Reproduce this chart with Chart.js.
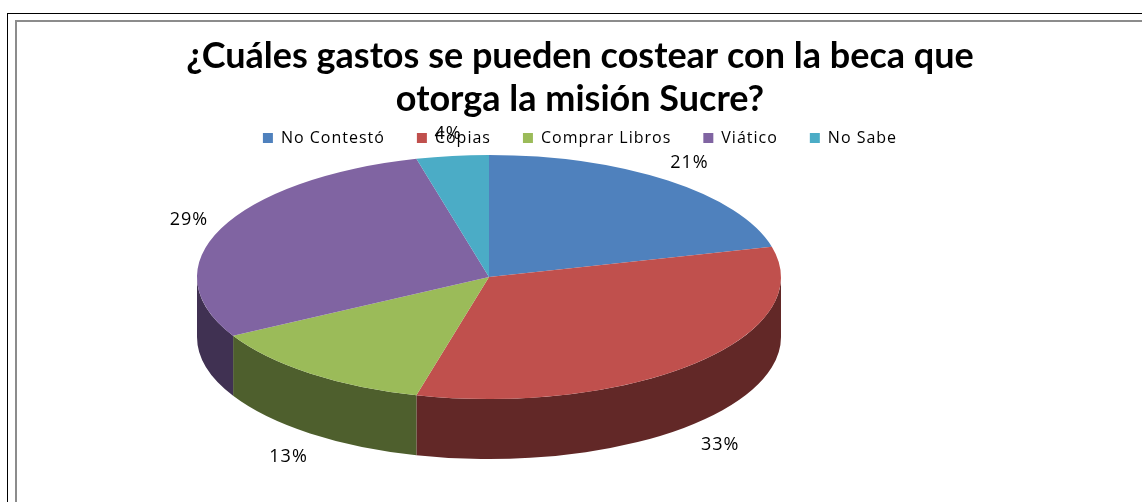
<!DOCTYPE html>
<html><head><meta charset="utf-8">
<script src="https://cdn.jsdelivr.net/npm/chart.js@4.4.1/dist/chart.umd.min.js"></script>
<style>
html,body{margin:0;padding:0;background:#fff;overflow:hidden;}
#wrap{position:relative;width:1142px;height:502px;overflow:hidden;}
canvas{position:absolute;left:0;top:0;}
.frame1{position:absolute;left:7px;top:13px;width:1300px;height:700px;border-left:1px solid #000;border-top:1px solid #000;pointer-events:none;}
.frame2{position:absolute;left:15px;top:20px;width:1300px;height:700px;border-left:2px solid #8c8c8c;border-top:2px solid #8c8c8c;pointer-events:none;}
</style></head>
<body><div id="wrap"><canvas id="c" width="1142" height="502"></canvas><div class="frame1"></div><div class="frame2"></div></div>
<script>
// ---- data ----
const categories = ['No Contestó', 'Copias', 'Comprar Libros', 'Viático', 'No Sabe'];
const percentages = [21, 33, 13, 29, 4];
const titleLines = ['¿Cuáles gastos se pueden costear con la beca que', 'otorga la misión Sucre?'];

// ---- styles ----
const sliceColors = ['#4F81BD', '#C0504D', '#9BBB59', '#8064A2', '#4BACC6'];
const sideColors  = ['#284060', '#622827', '#4E5F2D', '#403152', '#25566A'];
const PIE = { radius: 292, tilt: 0.418, depth: 60, shiftX: -91, shiftY: 0,
              labelFx: 1.12, labelFy: 1.18, labelDepth: 1.1 };
const LEGEND_SPACING = '1px';

function pieFrame(chart) {
  const arcs = chart.getDatasetMeta(0).data;
  const a = arcs[0];
  return { arcs, x: a.x, y: a.y, r: a.outerRadius, cx: a.x + PIE.shiftX, cy: a.y + PIE.shiftY };
}

const pie3d = {
  id: 'pie3d',
  afterInit(chart) {
    const lg = chart.legend;
    if (!lg) return;
    const origFit = lg.fit.bind(lg), origDraw = lg.draw.bind(lg);
    lg.fit = function () { const c = chart.ctx; c.save(); c.letterSpacing = LEGEND_SPACING; origFit(); c.restore(); };
    lg.draw = function () { const c = chart.ctx; c.save(); c.letterSpacing = LEGEND_SPACING; origDraw(); c.restore(); };
  },
  beforeDatasetsDraw(chart) {
    const ctx = chart.ctx, f = pieFrame(chart);
    ctx.save();
    ctx.translate(f.cx, f.cy);
    ctx.scale(1, PIE.tilt);
    ctx.translate(-f.x, -f.y);
    const d = PIE.depth / PIE.tilt;
    f.arcs.forEach((arc, i) => {
      const a1 = Math.max(arc.startAngle, 0), a2 = Math.min(arc.endAngle, Math.PI);
      if (a2 <= a1) return;
      ctx.beginPath();
      ctx.arc(f.x, f.y, f.r, a1, a2);
      ctx.arc(f.x, f.y + d, f.r, a2, a1, true);
      ctx.closePath();
      ctx.fillStyle = sideColors[i];
      ctx.fill();
    });
  },
  afterDatasetsDraw(chart) {
    const ctx = chart.ctx;
    ctx.restore();
    const f = pieFrame(chart);
    ctx.save();
    ctx.font = '18px "Open Sans"';
    ctx.letterSpacing = '1px';
    ctx.fillStyle = '#000';
    ctx.textAlign = 'center';
    ctx.textBaseline = 'middle';
    f.arcs.forEach((arc, i) => {
      const m = (arc.startAngle + arc.endAngle) / 2;
      const s = Math.sin(m), c = Math.cos(m);
      const x = f.cx + c * f.r * PIE.labelFx;
      const y = f.cy + s * f.r * PIE.tilt * PIE.labelFy + (s > 0 ? PIE.depth * PIE.labelDepth : 0);
      ctx.fillText(percentages[i] + '%', x, y);
    });
    ctx.restore();
  }
};

new Chart(document.getElementById('c'), {
  type: 'pie',
  data: {
    labels: categories,
    datasets: [{
      data: percentages,
      backgroundColor: sliceColors,
      borderWidth: 0,
      radius: PIE.radius,
      clip: false
    }]
  },
  options: {
    responsive: false,
    animation: false,
    devicePixelRatio: 1,
    events: [],
    layout: { padding: { left: 18, right: 0, top: 0, bottom: 104 } },
    plugins: {
      title: {
        display: true,
        text: titleLines,
        color: '#000',
        font: { family: 'Lato', weight: 'bold', size: 36, lineHeight: '43px' },
        padding: { top: 35, bottom: -23 }
      },
      legend: {
        display: true,
        position: 'top',
        labels: {
          boxWidth: 10, boxHeight: 10, padding: 32,
          color: '#000',
          font: { family: '"Open Sans"', size: 16 }
        }
      },
      tooltip: { enabled: false }
    }
  },
  plugins: [pie3d]
});
</script>
</body></html>
